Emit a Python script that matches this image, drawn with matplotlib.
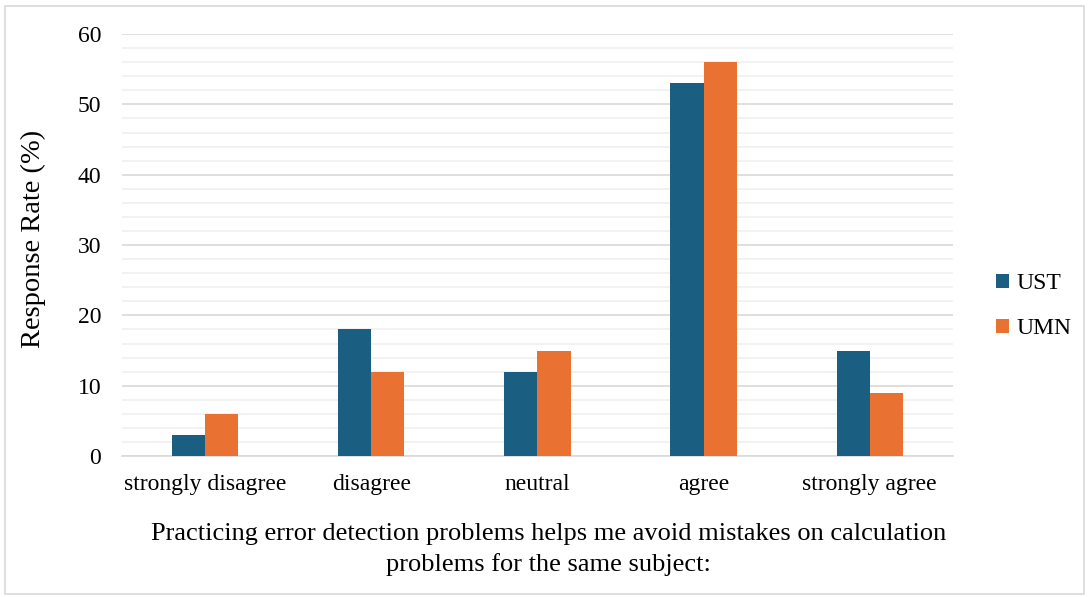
import numpy as np
import matplotlib.pyplot as plt
from matplotlib.patches import Rectangle
from matplotlib.ticker import MultipleLocator

categories = ['strongly disagree', 'disagree', 'neutral', 'agree', 'strongly agree']
ust = [3, 18, 12, 53, 15]
umn = [6, 12, 15, 56, 9]

plt.rcParams['font.family'] = ['Liberation Serif', 'DejaVu Serif']

fig = plt.figure(figsize=(10.89, 5.97), dpi=100)
ax = fig.add_axes([0.112, 0.236, 0.763, 0.707])

x = np.arange(len(categories))
w = 0.2
ax.bar(x - w/2, ust, w, color='#1a5f82', label='UST', zorder=3)
ax.bar(x + w/2, umn, w, color='#e97132', label='UMN', zorder=3)

ax.set_xlim(-0.5, len(categories) - 0.5)
ax.set_ylim(0, 60)
ax.yaxis.set_major_locator(MultipleLocator(10))
ax.yaxis.set_minor_locator(MultipleLocator(2))
ax.grid(which='major', axis='y', color='#d9d9d9', lw=1.2, zorder=0)
ax.grid(which='minor', axis='y', color='#f0f0f0', lw=1.2, zorder=0)
ax.set_axisbelow(True)
for s in ['top', 'right', 'left']:
    ax.spines[s].set_visible(False)
ax.spines['bottom'].set_color('#d9d9d9')
ax.spines['bottom'].set_linewidth(1.2)
ax.tick_params(which='both', length=0)
ax.tick_params(axis='y', labelsize=17, pad=15)
ax.tick_params(axis='x', labelsize=17, pad=13)
ax.set_xticks(x)
ax.set_xticklabels(categories)

ax.set_ylabel('Response Rate (%)', fontsize=20.5, labelpad=23, y=0.514)
ax.set_xlabel('Practicing error detection problems helps me avoid mistakes on calculation\nproblems for the same subject:',
              fontsize=19, labelpad=20, linespacing=1.45, x=0.513)

ax.legend(loc='center left', bbox_to_anchor=(1.026, 0.355), frameon=False, fontsize=17,
          handlelength=0.55, handleheight=0.55, handletextpad=0.35, labelspacing=1.0)

fig.patches.append(Rectangle((0.005, 0.005), 0.99, 0.985, transform=fig.transFigure,
                             fill=False, edgecolor='#d9d9d9', lw=1.2))

fig.savefig('out.png', dpi=100)
